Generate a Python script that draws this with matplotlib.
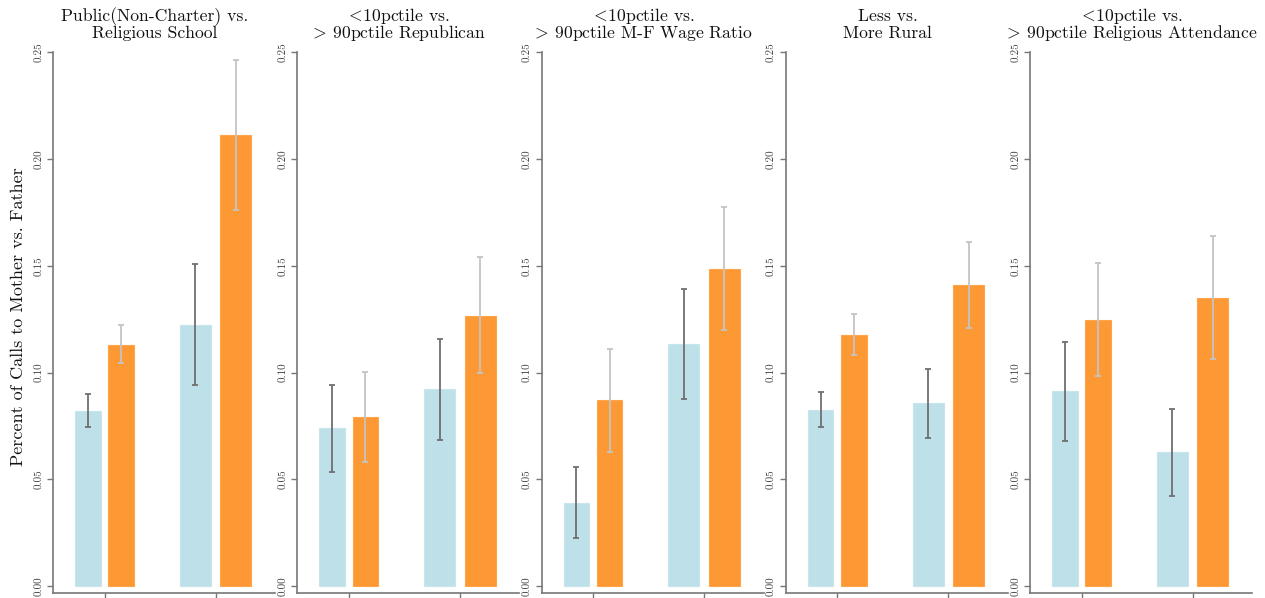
import matplotlib
matplotlib.use("Agg")
import matplotlib.pyplot as plt
import numpy as np

plt.rcParams['font.family'] = ['cmr10', 'DejaVu Serif']
plt.rcParams['mathtext.fontset'] = 'cm'
plt.rcParams['axes.formatter.use_mathtext'] = True

# panel titles (two lines each); \! cancels mathtext's spacing around < and >
titles = [
    ("Public(Non-Charter) vs.", "Religious School"),
    (r"$\!<\!$10pctile vs.", r"$\!>\!$ 90pctile Republican"),
    (r"$\!<\!$10pctile vs.", r"$\!>\!$ 90pctile M-F Wage Ratio"),
    ("Less vs.", "More Rural"),
    (r"$\!<\!$10pctile vs.", r"$\!>\!$ 90pctile Religious Attendance"),
]

# light blue bars: [group1, group2] per panel
blue_mean = [[0.0822, 0.1225], [0.0739, 0.0922], [0.0389, 0.1135], [0.0827, 0.0856], [0.0912, 0.0630]]
blue_lo   = [[0.0745, 0.0944], [0.0536, 0.0684], [0.0225, 0.0878], [0.0745, 0.0695], [0.0681, 0.0425]]
blue_hi   = [[0.0900, 0.1508], [0.0944, 0.1158], [0.0558, 0.1392], [0.0908, 0.1019], [0.1142, 0.0830]]

# orange bars
orange_mean = [[0.1131, 0.2111], [0.0794, 0.1267], [0.0870, 0.1486], [0.1177, 0.1409], [0.1247, 0.1350]]
orange_lo   = [[0.1044, 0.1763], [0.0583, 0.0997], [0.0630, 0.1200], [0.1081, 0.1210], [0.0983, 0.1066]]
orange_hi   = [[0.1224, 0.2461], [0.1005, 0.1542], [0.1112, 0.1777], [0.1272, 0.1613], [0.1511, 0.1638]]

yticks = [0.00, 0.05, 0.10, 0.15, 0.20, 0.25]
ytick_labels = ["0.00", "0.05", "0.10", "0.15", "0.20", "0.25"]

BLUE = '#bee0e8'
ORANGE = '#fd9935'
W, H = 1265, 598

fig = plt.figure(figsize=(W / 100, H / 100), dpi=100)

lefts = [53, 297.25, 541.5, 785.75, 1030]
centers = [1, 3]
# bar offsets / widths for the two groups
offs = [0.3, 0.365]
widths = [0.46, 0.56]

for i in range(5):
    ax = fig.add_axes([lefts[i] / W, 5 / H, 222 / W, 541 / H])
    for g in range(2):
        xb = centers[g] - offs[g]
        xo = centers[g] + offs[g]
        ax.bar(xb, blue_mean[i][g], width=widths[g], color=BLUE, edgecolor='#c8e5ec', linewidth=0.8, zorder=2)
        ax.bar(xo, orange_mean[i][g], width=widths[g], color=ORANGE, edgecolor='#ffa448', linewidth=0.8, zorder=2)
        ax.errorbar(xb, blue_mean[i][g],
                    yerr=[[blue_mean[i][g] - blue_lo[i][g]], [blue_hi[i][g] - blue_mean[i][g]]],
                    fmt='none', ecolor='#707070', elinewidth=1.3, capsize=2.5, capthick=1.3, zorder=3)
        ax.errorbar(xo, orange_mean[i][g],
                    yerr=[[orange_mean[i][g] - orange_lo[i][g]], [orange_hi[i][g] - orange_mean[i][g]]],
                    fmt='none', ecolor='#c4c4c4', elinewidth=1.3, capsize=2.5, capthick=1.3, zorder=3)

    ax.set_xlim(0.072, 4.07)
    ax.set_ylim(-0.0031, 0.25)
    ax.set_yticks(yticks)
    ax.set_yticklabels(ytick_labels, rotation=90, va='center', fontsize=8, color='#444444')
    ax.set_xticks(centers)
    ax.set_xticklabels([])
    ax.tick_params(axis='y', length=4, width=1, color='#777777', pad=3)
    ax.tick_params(axis='x', length=7, width=1, color='#777777')
    for s in ['top', 'right']:
        ax.spines[s].set_visible(False)
    for s in ['left', 'bottom']:
        ax.spines[s].set_color('#777777')
        ax.spines[s].set_linewidth(1.2)

    cx = (lefts[i] + 102) / W
    fig.text(cx, 1 - 21 / H, titles[i][0], ha='center', va='baseline', fontsize=12.7, color='#111111')
    fig.text(cx, 1 - 38 / H, titles[i][1], ha='center', va='baseline', fontsize=12.7, color='#111111')

fig.text(18 / W, 1 - 317 / H, "Percent of Calls to Mother vs. Father", rotation=90,
         ha='center', va='center', fontsize=13, color='#111111')

fig.savefig('out.png', dpi=100)
